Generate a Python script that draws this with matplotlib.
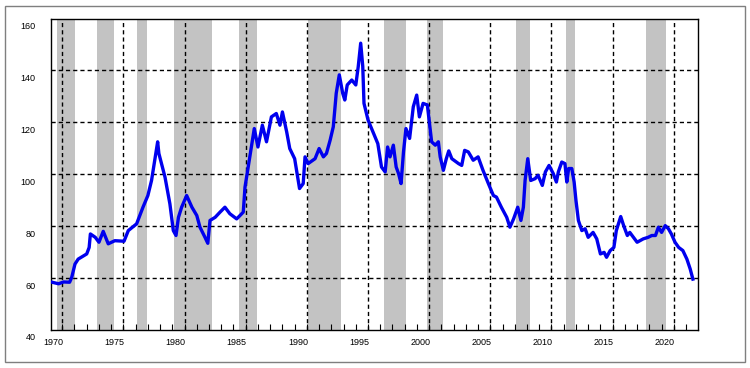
import matplotlib
matplotlib.use("Agg")
import matplotlib.pyplot as plt
import matplotlib.transforms as mtransforms
from matplotlib.patches import Rectangle

# series (decimal year, index value)
years = [1969.08, 1969.7, 1970.1, 1970.6, 1970.77, 1971.04, 1971.3, 1972.0, 1972.2, 1972.3,
         1972.7, 1973.0, 1973.35, 1973.76, 1974.3, 1975.05, 1975.4, 1976.08, 1976.6, 1977.0,
         1977.3, 1977.6, 1977.8, 1977.9, 1978.4, 1978.8, 1979.08, 1979.3, 1979.5, 1979.76,
         1980.17, 1980.6, 1981.0, 1981.26, 1981.67, 1981.9, 1982.08, 1982.5, 1982.9, 1983.3,
         1983.7, 1984.26, 1984.8, 1984.94, 1985.16, 1985.5, 1985.7, 1986.0, 1986.36, 1986.7,
         1987.1, 1987.5, 1987.8, 1988.0, 1988.35, 1988.6, 1989.0, 1989.4, 1989.7, 1989.85,
         1990.1, 1990.67, 1991.0, 1991.35, 1991.6, 1991.9, 1992.16, 1992.4, 1992.65, 1992.93,
         1993.1, 1993.3, 1993.67, 1994.0, 1994.2, 1994.4, 1994.57, 1994.67, 1995.0, 1995.4,
         1995.8, 1996.1, 1996.4, 1996.6, 1996.8, 1997.07, 1997.3, 1997.5, 1997.7, 1997.9,
         1998.1, 1998.4, 1998.7, 1998.98, 1999.2, 1999.5, 1999.85, 1999.99, 2000.2, 2000.5,
         2000.75, 2000.9, 2001.16, 2001.4, 2001.6, 2001.85, 2002.4, 2002.66, 2002.9, 2003.2,
         2003.6, 2004.0, 2004.4, 2004.84, 2005.25, 2005.5, 2005.9, 2006.34, 2006.6, 2006.9,
         2007.24, 2007.5, 2007.7, 2007.84, 2008.06, 2008.3, 2008.66, 2008.9, 2009.25, 2009.5,
         2009.8, 2010.15, 2010.4, 2010.56, 2010.84, 2011.1, 2011.25, 2011.4, 2011.66, 2011.85,
         2012.0, 2012.2, 2012.48, 2012.75, 2013.0, 2013.4, 2013.7, 2014.0, 2014.3, 2014.5,
         2014.8, 2015.1, 2015.3, 2015.66, 2015.9, 2016.2, 2016.4, 2016.7, 2017.0, 2017.5,
         2017.9, 2018.2, 2018.5, 2018.74, 2019.0, 2019.3, 2019.56, 2019.8, 2020.1, 2020.4,
         2020.74, 2021.07, 2021.34, 2021.56]
values = [58.5, 57.8, 58.5, 58.4, 60.2, 65.4, 67.3, 69.3, 71.8, 77.0,
          75.7, 73.8, 78.0, 73.2, 74.4, 74.2, 78.3, 80.9, 87.3, 91.8,
          97.6, 106.7, 112.5, 108.0, 98.9, 88.6, 78.3, 76.4, 83.4, 87.3,
          91.8, 87.3, 84.1, 79.6, 75.7, 73.4, 82.2, 83.4, 85.4, 87.3,
          84.8, 82.8, 85.4, 95.0, 101.5, 111.8, 117.6, 110.5, 118.9, 112.5,
          122.1, 123.4, 118.9, 124.0, 116.3, 109.9, 106.0, 94.5, 96.4, 106.7,
          104.1, 106.0, 109.9, 106.7, 108.0, 113.1, 118.3, 131.2, 138.3, 131.2,
          128.6, 134.4, 136.3, 134.4, 141.5, 150.5, 141.5, 127.3, 120.9, 116.3,
          111.8, 102.8, 100.9, 110.5, 106.7, 111.2, 102.8, 100.2, 96.4, 108.6,
          117.6, 113.8, 126.0, 130.5, 122.1, 127.3, 126.7, 120.9, 112.5, 111.2,
          112.5, 106.7, 101.5, 106.0, 109.0, 106.0, 104.1, 103.4, 109.2, 108.6,
          105.4, 106.7, 101.5, 96.4, 91.8, 91.2, 87.3, 83.4, 79.6, 82.8,
          87.3, 82.2, 87.3, 97.6, 106.0, 97.6, 98.3, 99.6, 95.7, 100.9,
          103.4, 100.2, 97.0, 100.9, 104.7, 104.1, 97.0, 102.2, 102.2, 97.0,
          89.9, 82.2, 78.3, 79.0, 75.7, 77.6, 75.1, 69.3, 69.9, 68.0,
          70.6, 71.8, 78.3, 83.7, 80.2, 76.4, 77.6, 75.7, 73.8, 75.1,
          75.7, 76.4, 76.4, 79.6, 77.6, 80.2, 79.0, 77.0, 73.8, 71.8,
          70.6, 67.3, 63.5, 59.6]

# shaded periods (start, end)
band_start = [1969.54, 1972.86, 1976.08, 1979.13, 1984.43, 1990.07,
              1996.33, 1999.83, 2007.13, 2011.17, 2017.71]
band_end = [1971.04, 1974.25, 1976.93, 1982.22, 1985.90, 1992.79,
            1998.11, 2001.14, 2008.22, 2011.93, 2019.35]

x_major = [1970, 1975, 1980, 1985, 1990, 1995, 2000, 2005, 2010, 2015, 2020]
x_minor = list(range(1970, 2022))
y_ticks = [40, 60, 80, 100, 120, 140, 160]
y_grid = [60, 80, 100, 120, 140]

plt.rcParams['font.family'] = ['Liberation Sans', 'DejaVu Sans']

fig = plt.figure(figsize=(7.5, 3.68), dpi=100)
ax = fig.add_axes([0.068, 0.1033, 0.8627, 0.8464])

# outer frame
fig.patches.append(Rectangle((5 / 750, 6 / 368), 740 / 750, 356 / 368,
                             transform=fig.transFigure, fill=False,
                             edgecolor='#7f7f7f', linewidth=1.0))

for s, e in zip(band_start, band_end):
    ax.axvspan(s, e, color='#c3c3c3', lw=0, zorder=0.2)

for x in x_major:
    ax.axvline(x, color='black', lw=1.0, ls=(0, (3, 2.2)), zorder=0.5)
for y in y_grid:
    ax.axhline(y, color='black', lw=1.0, ls=(0, (3, 2.2)), zorder=0.5)

ax.plot(years, values, color='#0000ee', lw=2.4, zorder=3)

ax.set_xlim(1969.08, 2021.98)
ax.set_ylim(40, 160)
ax.set_xticks(x_major)
ax.set_xticks(x_minor, minor=True)
ax.set_yticks(y_ticks)
ax.tick_params(axis='x', which='both', direction='in', length=4, width=0.8,
               labelsize=6.5, pad=6)
ax.tick_params(axis='y', length=0, labelsize=6.5, pad=11)
for sp in ax.spines.values():
    sp.set_linewidth(1.0)

# the labels sit a little off their ticks in the original
dx = mtransforms.ScaledTranslation(-9 / 100, 0, fig.dpi_scale_trans)
for lab in ax.get_xticklabels():
    lab.set_transform(lab.get_transform() + dx)
dy = mtransforms.ScaledTranslation(0, -7 / 100, fig.dpi_scale_trans)
for lab in ax.get_yticklabels():
    lab.set_transform(lab.get_transform() + dy)

fig.savefig('out.png', dpi=100)
